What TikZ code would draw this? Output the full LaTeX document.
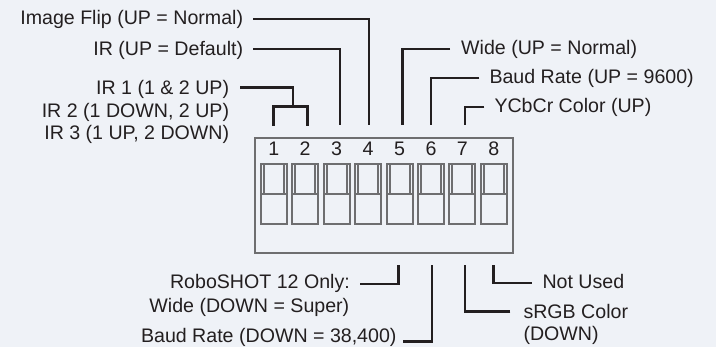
\documentclass[tikz,border=0pt]{standalone}
\usepackage{fontspec}
\setmainfont{Liberation Sans}
\definecolor{bg}{RGB}{239,242,247}
\definecolor{ink}{RGB}{35,31,32}
\definecolor{swgray}{RGB}{110,110,112}
\begin{document}
\begin{tikzpicture}[x=1pt,y=-1pt,
  lbl/.style={inner sep=0pt, font=\fontsize{19.6}{22}\selectfont, text=ink},
  conn/.style={draw=ink, line width=2.4pt},
  box/.style={draw=swgray, line width=2pt, inner sep=0pt, outer sep=0pt}]
\fill[bg] (0,0) rectangle (716,347);
\useasboundingbox (0,0) rectangle (716,347);
% base of the DIP switch
\node[box, anchor=north west, minimum width=258pt, minimum height=115pt] (base) at (255,138) {};
% switches
\foreach \i in {1,...,8}{
  \pgfmathsetmacro\xx{260.7+(\i-1)*31.45}
  \node[box, anchor=north west, minimum width=26pt, minimum height=60pt] (sw\i) at (\xx,164) {};
  \node[box, anchor=north west, minimum width=20pt, minimum height=30pt] (kn\i) at (\xx+3,164) {};
  \draw[draw=swgray, line width=2pt] (sw\i.west |- kn\i.south) -- (sw\i.east |- kn\i.south);
  \node[lbl, anchor=base] (n\i) at (\xx+13,155.7) {\i};
}
% connector end points at the switches
\coordinate (s1) at (273.3,126);
\coordinate (s2) at (307.3,126);
\coordinate (brk) at (293,106.7);
\coordinate (s3) at (340,125);
\coordinate (s4) at (369,125);
\coordinate (s5) at (402.3,125);
\coordinate (s6) at (431,125);
\coordinate (s7) at (464.7,125);
\coordinate (b5) at (398.3,265);
\coordinate (b6) at (431.7,265);
\coordinate (b7) at (465,265);
\coordinate (b8) at (493.3,265);
% top-left labels
\node[lbl, anchor=base east] (flip) at (243.3,25) {Image Flip (UP = Normal)};
\node[lbl, anchor=base east] (ird) at (243.3,55.7) {IR (UP = Default)};
\node[lbl, anchor=base east] (ir1) at (229.3,95) {IR 1 (1 \& 2 UP)};
\node[lbl, anchor=base east] (ir2) at (229.3,117.3) {IR 2 (1 DOWN, 2 UP)};
\node[lbl, anchor=base east] (ir3) at (229.3,139.3) {IR 3 (1 UP, 2 DOWN)};
\draw[conn] ([shift={(10,-6)}]flip.base east) -| (s4);
\draw[conn] ([shift={(10,-6.4)}]ird.base east) -| (s3);
\draw[conn] ([shift={(10.7,-7.5)}]ir1.base east) -| (brk);
\draw[conn] (s1) |- (brk) -| (s2);
% top-right labels
\node[lbl, anchor=base west] (wide) at (461,54.3) {Wide (UP = Normal)};
\node[lbl, anchor=base west] (baud) at (489.3,83.3) {Baud Rate (UP = 9600)};
\node[lbl, anchor=base west] (ycc) at (494.3,112.3) {YCbCr Color (UP)};
\draw[conn] ([shift={(-11,-5)}]wide.base west) -| (s5);
\draw[conn] ([shift={(-10,-5)}]baud.base west) -| (s6);
\draw[conn] ([shift={(-10,-5)}]ycc.base west) -| (s7);
% bottom labels
\node[lbl, anchor=base east] (robo) at (350,288.3) {RoboSHOT 12 Only:};
\node[lbl, anchor=base east] (wided) at (349.5,312.3) {Wide (DOWN = Super)};
\node[lbl, anchor=base east] (baudd) at (396.7,342.3) {Baud Rate (DOWN = 38,400)};
\node[lbl, anchor=base west] (srgb) at (523.3,318.3) {sRGB Color};
\node[lbl, anchor=base west] (srgbd) at (523.3,341) {(DOWN)};
\node[lbl, anchor=base west] (nu) at (542.3,289) {Not Used};
\draw[conn] ([shift={(10,-4)}]robo.base east) -| (b5);
\draw[conn] ([shift={(6.3,-0.6)}]baudd.base east) -| (b6);
\draw[conn] ([shift={(-13,-6.6)}]srgb.base west) -| (b7);
\draw[conn] ([shift={(-10.6,-5.7)}]nu.base west) -| (b8);
\end{tikzpicture}
\end{document}
